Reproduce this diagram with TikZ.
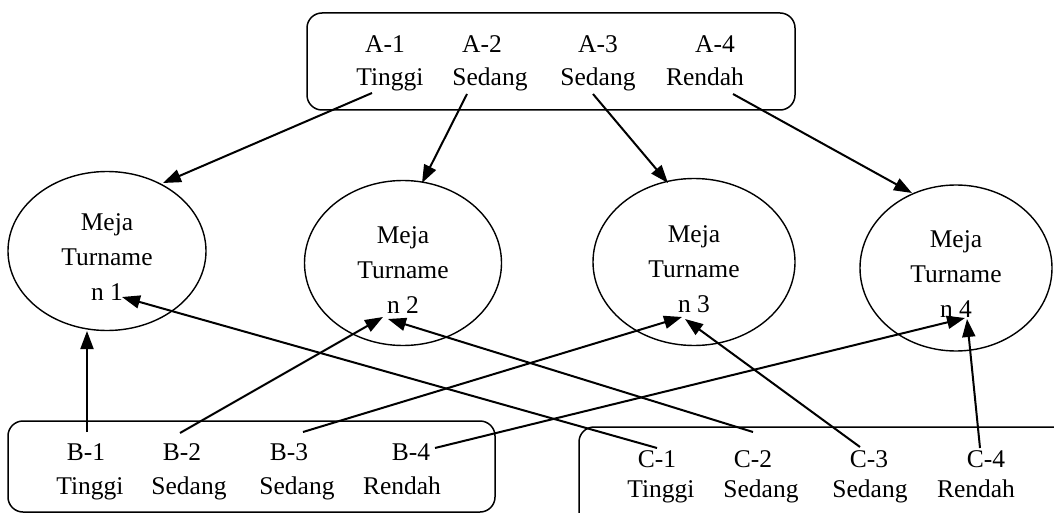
\documentclass[tikz,border=0pt]{standalone}
\usepackage{fontspec}
\setmainfont{Liberation Serif}
\usetikzlibrary{shapes.geometric,arrows.meta}
\tikzset{
  txt/.style={font=\fontsize{25.5}{35}\selectfont, inner sep=0pt, anchor=base},
  ell/.style={ellipse, draw, line width=1.4pt, inner sep=0pt, outer sep=0pt},
  etxt/.style={align=center, inner sep=0pt, font=\fontsize{25.5}{35}\selectfont},
  grp/.style={draw, line width=1.5pt, rounded corners=15pt, inner sep=0pt, outer sep=0pt},
  arr/.style={line width=2pt, -{Triangle[length=18pt,width=13pt]}}
}
\begin{document}
\begin{tikzpicture}[x=1pt,y=-1pt]
\useasboundingbox (0,0) rectangle (1054,513);
% group boxes
\node[grp, minimum width=488pt, minimum height=97pt] (boxA) at (551,61.5) {};
\node[grp, minimum width=487pt, minimum height=91pt] (boxB) at (251.5,466.5) {};
\node[grp, minimum width=500pt, minimum height=110pt] (boxC) at (829,482) {};
% ellipses
\node[ell, minimum width=198pt, minimum height=159pt] (e1) at (107,251) {};
\node[ell, minimum width=197pt, minimum height=165pt] (e2) at (403,263) {};
\node[ell, minimum width=202pt, minimum height=167pt] (e3) at (694,262) {};
\node[ell, minimum width=192pt, minimum height=166pt] (e4) at (956,268) {};
\node[etxt] (e1x) at (107,257.5) {Meja\\Turname\\n 1};
\node[etxt] (e2x) at (403,270) {Meja\\Turname\\n 2};
\node[etxt] (e3x) at (694,269) {Meja\\Turname\\n 3};
\node[etxt] (e4x) at (956,274.5) {Meja\\Turname\\n 4};
% A texts
\node[txt] (a1) at (385,53) {A-1};
\node[txt] (a2) at (482,53) {A-2};
\node[txt] (a3) at (598,53) {A-3};
\node[txt] (a4) at (715,53) {A-4};
\node[txt] (a1l) at (390,86) {Tinggi};
\node[txt] (a2l) at (490,86) {Sedang};
\node[txt] (a3l) at (598,86) {Sedang};
\node[txt] (a4l) at (705,86) {Rendah};
% B texts
\node[txt] (b1) at (86,460) {B-1};
\node[txt] (b2) at (182,460) {B-2};
\node[txt] (b3) at (289,460) {B-3};
\node[txt] (b4) at (411,460) {B-4};
\node[txt] (b1l) at (90,494) {Tinggi};
\node[txt] (b2l) at (189,494) {Sedang};
\node[txt] (b3l) at (297,494) {Sedang};
\node[txt] (b4l) at (402,494) {Rendah};
% C texts
\node[txt] (c1) at (657,467) {C-1};
\node[txt] (c2) at (753,467) {C-2};
\node[txt] (c3) at (869,467) {C-3};
\node[txt] (c4) at (986,467) {C-4};
\node[txt] (c1l) at (661,497) {Tinggi};
\node[txt] (c2l) at (761,497) {Sedang};
\node[txt] (c3l) at (870,497) {Sedang};
\node[txt] (c4l) at (976,497) {Rendah};
% connector ends
\coordinate (a1s) at (372,93);  \coordinate (a1t) at (163,183);
\coordinate (a2s) at (467,94);  \coordinate (a2t) at (422,183);
\coordinate (a3s) at (593,94);  \coordinate (a3t) at (668,183);
\coordinate (a4s) at (733,94);  \coordinate (a4t) at (912,193);
\coordinate (b1s) at (87,432);  \coordinate (b1t) at (87,331);
\coordinate (b2s) at (180,433); \coordinate (b2t) at (383,317);
\coordinate (b3s) at (303,432); \coordinate (b3t) at (682,317);
\coordinate (b4s) at (435,448); \coordinate (b4t) at (965,318);
\coordinate (c1s) at (657,448); \coordinate (c1t) at (122,297);
\coordinate (c2s) at (753,432); \coordinate (c2t) at (388,319);
\coordinate (c3s) at (860,447); \coordinate (c3t) at (685,319);
\coordinate (c4s) at (980,448); \coordinate (c4t) at (967,319);
\foreach \p in {a1,a2,a3,a4,b1,b2,b3,b4,c1,c2,c3,c4}
  \draw[arr] (\p s) -- (\p t);
\end{tikzpicture}
\end{document}
